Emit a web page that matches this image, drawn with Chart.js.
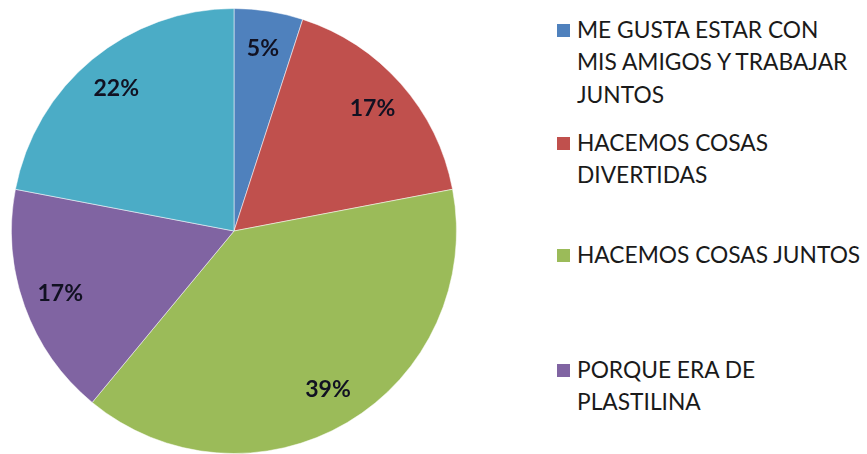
<!DOCTYPE html>
<html><head><meta charset="utf-8">
<script src="https://cdn.jsdelivr.net/npm/chart.js@4"></script>
<style>
html,body{margin:0;padding:0;background:#fff;width:867px;height:454px;overflow:hidden;}
#wrap{position:absolute;left:11px;top:8px;width:446px;height:446px;}
.leg{position:absolute;left:557px;font-family:Lato,"Open Sans",sans-serif;color:#1a1a1a;}
.leg .sq{position:absolute;left:0;width:13px;height:13px;}
.leg .tx{position:absolute;left:20px;white-space:nowrap;}
</style></head>
<body>
<div id="wrap"><canvas id="c"></canvas></div>
<div id="legend"></div>
<script>
const categories = ["ME GUSTA ESTAR CON MIS AMIGOS Y TRABAJAR JUNTOS","HACEMOS COSAS DIVERTIDAS","HACEMOS COSAS JUNTOS","PORQUE ERA DE PLASTILINA","OTROS"];
const legendLines = [["ME GUSTA ESTAR CON","MIS AMIGOS Y TRABAJAR","JUNTOS"],["HACEMOS COSAS","DIVERTIDAS"],["HACEMOS COSAS JUNTOS"],["PORQUE ERA DE","PLASTILINA"]];
const values = [5,17,39,17,22];
const colors = ["#4F81BD","#C0504D","#9BBB59","#8064A2","#4BACC6"];

// legend layout (first-line centers)
const legendTops = [30,143,255,370];
const lineH = 32.5;
// fit font so widest line matches reference width
const mc = document.createElement('canvas').getContext('2d');
let fs = 20;
for (let s=16;s<=28;s+=0.25){ mc.font = s+'px Lato'; if (mc.measureText('MIS AMIGOS Y TRABAJAR').width<=275) fs=s; }
const legend = document.getElementById('legend');
legendLines.forEach((lines,i)=>{
  const d=document.createElement('div'); d.className='leg';
  d.style.top=(legendTops[i]-lineH/2)+'px'; d.style.fontSize=fs+'px';
  const sq=document.createElement('div'); sq.className='sq'; sq.style.background=colors[i];
  sq.style.top=(lineH/2-6)+'px'; d.appendChild(sq);
  lines.forEach((t,j)=>{const s=document.createElement('div'); s.className='tx'; s.textContent=t;
    s.style.top=(j*lineH)+'px'; s.style.lineHeight=lineH+'px'; d.appendChild(s);});
  legend.appendChild(d);
});

const labelPlugin = {
  id:'pctLabels',
  afterDatasetsDraw(chart){
    const ctx=chart.ctx; const meta=chart.getDatasetMeta(0);
    const total=values.reduce((a,b)=>a+b,0);
    ctx.save();
    ctx.font='bold 23px Lato, "Open Sans", sans-serif';
    ctx.fillStyle='#111122'; ctx.textAlign='center'; ctx.textBaseline='middle';
    meta.data.forEach((arc,i)=>{
      const p=arc.getProps(['x','y','startAngle','endAngle','outerRadius'],true);
      const a=(p.startAngle+p.endAngle)/2; const r=p.outerRadius*0.83;
      ctx.fillText(Math.round(values[i]/total*100)+'%', p.x+Math.cos(a)*r, p.y+Math.sin(a)*r);
    });
    ctx.restore();
  }
};

new Chart(document.getElementById('c'),{
  type:'pie',
  data:{labels:categories,datasets:[{data:values,backgroundColor:colors,borderColor:'rgba(255,255,255,0.5)',borderWidth:1}]},
  options:{responsive:true,maintainAspectRatio:false,animation:false,
    layout:{padding:0},
    plugins:{legend:{display:false},tooltip:{enabled:false}}},
  plugins:[labelPlugin]
});
</script>
</body></html>
